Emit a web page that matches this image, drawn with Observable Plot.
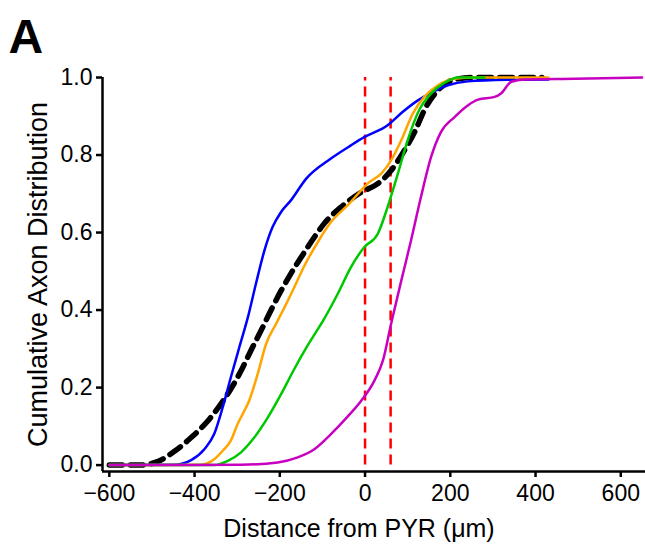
<!DOCTYPE html>
<html><head><meta charset="utf-8">
<script src="https://cdn.jsdelivr.net/npm/d3@7"></script>
<script src="https://cdn.jsdelivr.net/npm/@observablehq/plot@0.6"></script>
<style>
body{margin:0;background:#fff;}
#chart{width:645px;height:547px;}
</style>
</head><body><div id="chart"></div>
<script>
const panelLabel = "A";
const xLabel = "Distance from PYR (μm)";
const yLabel = "Cumulative Axon Distribution";
const xTicks = [-600, -400, -200, 0, 200, 400, 600];
const yTicks = [0, 0.2, 0.4, 0.6, 0.8, 1.0];
const markerLines = [0, 60];

const blackX = [-600, -526, -487, -448, -408, -369, -338, -315, -287, -268, -244, -221, -197, -174, -150, -127, -96, -56, -9, 30, 61, 88, 116, 143, 171, 210, 257, 415];
const blackY = [0, 0, 0.009, 0.035, 0.071, 0.114, 0.158, 0.196, 0.252, 0.295, 0.347, 0.399, 0.450, 0.494, 0.536, 0.575, 0.623, 0.666, 0.704, 0.726, 0.760, 0.804, 0.859, 0.924, 0.967, 0.995, 1.0, 1.0];

const blueX = [-600, -448, -408, -377, -354, -334, -315, -295, -275, -256, -236, -217, -197, -174, -138, -80, -33, -2, 53, 88, 124, 163, 194, 241, 335, 430];
const blueY = [0, 0.001, 0.013, 0.041, 0.080, 0.149, 0.226, 0.304, 0.381, 0.468, 0.554, 0.614, 0.653, 0.683, 0.739, 0.791, 0.825, 0.846, 0.877, 0.911, 0.941, 0.965, 0.980, 0.990, 0.994, 0.995];

const orangeX = [-600, -385, -354, -334, -315, -299, -287, -272, -252, -232, -209, -189, -166, -142, -111, -80, -41, 10, 38, 61, 85, 112, 139, 171, 210, 257, 430];
const orangeY = [0, 0.001, 0.015, 0.037, 0.063, 0.106, 0.132, 0.166, 0.235, 0.313, 0.364, 0.407, 0.459, 0.515, 0.575, 0.627, 0.670, 0.730, 0.752, 0.786, 0.838, 0.907, 0.950, 0.980, 0.997, 1.0, 1.0];

const greenX = [-600, -354, -322, -291, -260, -228, -197, -166, -135, -96, -64, -33, -2, 30, 53, 77, 100, 127, 155, 186, 218, 280];
const greenY = [0, 0, 0.011, 0.033, 0.071, 0.123, 0.183, 0.248, 0.308, 0.377, 0.442, 0.511, 0.562, 0.597, 0.666, 0.752, 0.838, 0.916, 0.959, 0.986, 1.0, 1.0];

const magentaX = [-600, -291, -205, -158, -119, -80, -41, -9, 22, 42, 61, 85, 108, 131, 155, 178, 210, 241, 265, 304, 319, 343, 374, 491, 650];
const magentaY = [0, 0.001, 0.007, 0.020, 0.041, 0.080, 0.125, 0.166, 0.218, 0.270, 0.364, 0.476, 0.580, 0.691, 0.795, 0.859, 0.898, 0.928, 0.943, 0.950, 0.959, 0.989, 0.995, 0.997, 1.0];

const toPts = (xs, ys) => xs.map((x, i) => ({x, y: ys[i]}));
const xMin = -616, xMax = 658, yMin = -0.0165, yMax = 1.0;

const solid = (xs, ys, color) => Plot.line(toPts(xs, ys), {x: "x", y: "y", stroke: color, strokeWidth: 2.5, curve: "monotone-x"});

const chart = Plot.plot({
  width: 645, height: 547,
  marginLeft: 102, marginRight: 0, marginTop: 77, marginBottom: 76,
  x: {domain: [xMin, xMax]},
  y: {domain: [yMin, yMax]},
  style: {fontFamily: "'Liberation Sans', Arial, sans-serif", fontSize: "23px", color: "black", background: "white"},
  marks: [
    Plot.axisX({ticks: xTicks, tickSize: 6, tickPadding: 7, fontSize: 23, strokeWidth: 2.5, label: null}),
    Plot.axisY({ticks: yTicks, tickSize: 6, tickPadding: 4, tickFormat: d3.format(".1f"), fontSize: 23, strokeWidth: 2.5, label: null}),
    Plot.ruleY([yMin], {strokeWidth: 2.5}),
    Plot.ruleX([xMin], {strokeWidth: 2.5}),
    Plot.ruleX(markerLines, {y1: 0, y2: 1, stroke: "#ff0000", strokeWidth: 2.5, strokeDasharray: "10,6"}),
    Plot.line(toPts(blackX, blackY), {x: "x", y: "y", stroke: "black", strokeWidth: 5.5, strokeDasharray: "13,8", curve: "monotone-x"}),
    solid(blueX, blueY, "#0000ff"),
    solid(orangeX, orangeY, "#ffa500"),
    solid(greenX, greenY, "#00c800"),
    solid(magentaX, magentaY, "#c800c0"),
    Plot.text([xLabel], {text: d => d, frameAnchor: "bottom", textAnchor: "middle", lineAnchor: "middle", dx: -15, dy: 57, fontSize: 25}),
    Plot.text([yLabel], {text: d => d, frameAnchor: "left", textAnchor: "middle", lineAnchor: "middle", rotate: -90, dx: -64, fontSize: 27}),
    Plot.text([panelLabel], {text: d => d, frameAnchor: "top-left", textAnchor: "start", lineAnchor: "middle", dx: -94, dy: -40, fontSize: 48, fontWeight: "bold"})
  ]
});
document.getElementById("chart").append(chart);
</script>
</body></html>
